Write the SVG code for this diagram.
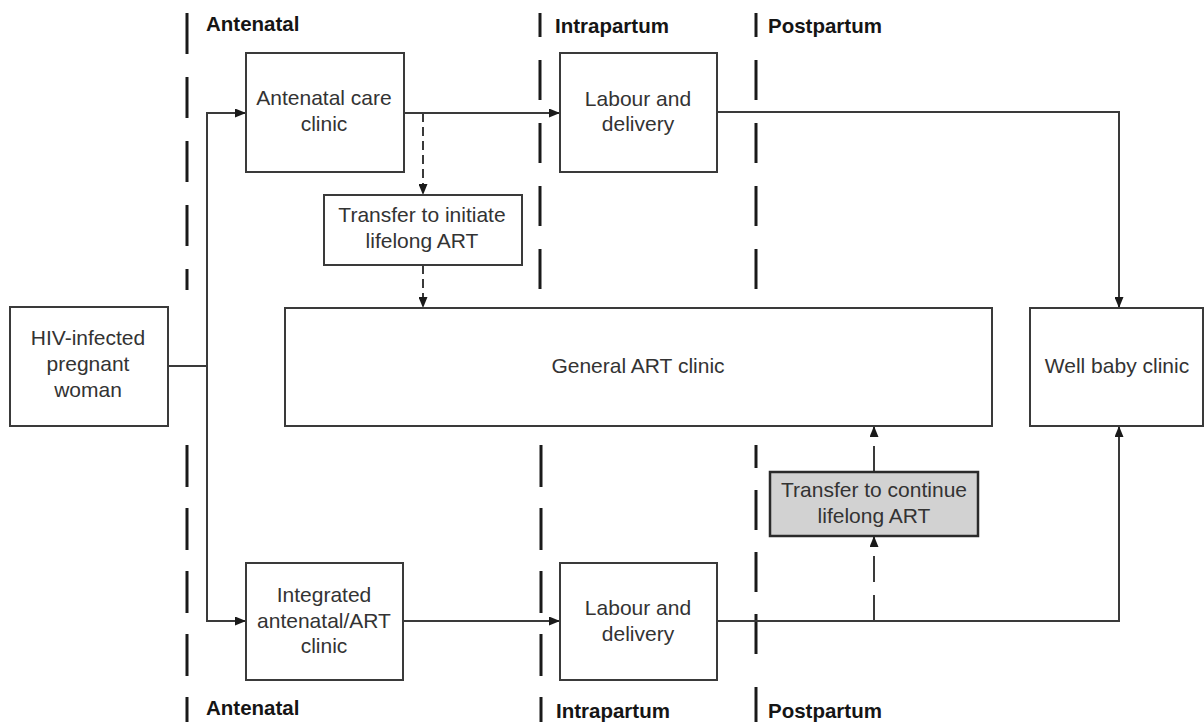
<svg xmlns="http://www.w3.org/2000/svg" width="1204" height="722" viewBox="0 0 1204 722">
<style>
.box{fill:#fff;stroke:#3a3a3a;stroke-width:2}
.grey{fill:#d2d2d2;stroke:#2a2a2a;stroke-width:2.5}
.t{font-family:"Liberation Sans",Arial,sans-serif;font-size:21px;fill:#333;text-anchor:middle}
.lbl{font-family:"Liberation Sans",Arial,sans-serif;font-size:20.5px;font-weight:bold;fill:#151515}
.phase{stroke:#1a1a1a;stroke-width:3;fill:none}
.c{fill:none;stroke:#3a3a3a;stroke-width:2}
.d{fill:none;stroke:#3a3a3a;stroke-width:2;stroke-dasharray:9 5}
.d2{fill:none;stroke:#3a3a3a;stroke-width:2;stroke-dasharray:26 13}
</style>
<defs>
<marker id="ah" markerUnits="userSpaceOnUse" markerWidth="11" markerHeight="9" refX="11" refY="4.5" orient="auto">
<path d="M0,0 L11,4.5 L0,9 z" fill="#1a1a1a"/>
</marker>
</defs>
<rect width="1204" height="722" fill="#fff"/>
<g id="phases">
<line class="phase" x1="187" y1="13" x2="187" y2="290" stroke-dasharray="41 23"/>
<line class="phase" x1="187" y1="445" x2="187" y2="722" stroke-dasharray="42 21"/>
<line class="phase" x1="540" y1="13" x2="540" y2="37"/>
<line class="phase" x1="540" y1="60" x2="540" y2="289" stroke-dasharray="40 23"/>
<line class="phase" x1="541" y1="445" x2="541" y2="722" stroke-dasharray="42 21"/>
<line class="phase" x1="756" y1="13" x2="756" y2="37"/>
<line class="phase" x1="756" y1="60" x2="756" y2="289" stroke-dasharray="40 23"/>
<line class="phase" x1="756" y1="445" x2="756" y2="468"/>
<line class="phase" x1="756" y1="490" x2="756" y2="657" stroke-dasharray="40 22"/>
<line class="phase" x1="756" y1="687" x2="756" y2="722"/>
<text class="lbl" x="206" y="31">Antenatal</text>
<text class="lbl" x="555" y="33">Intrapartum</text>
<text class="lbl" x="768" y="33">Postpartum</text>
<text class="lbl" x="206" y="715">Antenatal</text>
<text class="lbl" x="556" y="718">Intrapartum</text>
<text class="lbl" x="768" y="718">Postpartum</text>
</g>
<g id="connectors">
<path class="c" d="M168,366 H207"/>
<path class="c" d="M207,366 V113 H246" marker-end="url(#ah)"/>
<path class="c" d="M207,366 V621 H246" marker-end="url(#ah)"/>
<path class="c" d="M404,113 H560" marker-end="url(#ah)"/>
<path class="d" d="M423,113 V195" marker-end="url(#ah)"/>
<path class="d" d="M423,265 V308" marker-end="url(#ah)"/>
<path class="c" d="M717,112 H1119 V308" marker-end="url(#ah)"/>
<path class="c" d="M403,621 H560" marker-end="url(#ah)"/>
<path class="c" d="M717,621 H1119 V426" marker-end="url(#ah)"/>
<path class="d2" d="M874,621 V536" marker-end="url(#ah)"/>
<path class="d2" d="M874,472 V426" marker-end="url(#ah)"/>
</g>
<g id="hiv">
<rect class="box" x="10" y="307" width="158" height="119"/>
<text class="t" x="88" y="345">HIV-infected</text>
<text class="t" x="88" y="371">pregnant</text>
<text class="t" x="88" y="397">woman</text>
</g>
<g id="antenatal-care">
<rect class="box" x="246" y="53" width="158" height="119"/>
<text class="t" x="324" y="105">Antenatal care</text>
<text class="t" x="324" y="131">clinic</text>
</g>
<g id="labour-top">
<rect class="box" x="560" y="53" width="157" height="119"/>
<text class="t" x="638" y="106">Labour and</text>
<text class="t" x="638" y="131">delivery</text>
</g>
<g id="transfer-initiate">
<rect class="box" x="324" y="195" width="198" height="70"/>
<text class="t" x="422" y="222">Transfer to initiate</text>
<text class="t" x="422" y="248">lifelong ART</text>
</g>
<g id="general-art">
<rect class="box" x="285" y="308" width="707" height="118"/>
<text class="t" x="638" y="373">General ART clinic</text>
</g>
<g id="well-baby">
<rect class="box" x="1030" y="308" width="173" height="118"/>
<text class="t" x="1117" y="373">Well baby clinic</text>
</g>
<g id="transfer-continue">
<rect class="grey" x="770" y="472" width="208" height="64"/>
<text class="t" x="874" y="497">Transfer to continue</text>
<text class="t" x="874" y="523">lifelong ART</text>
</g>
<g id="integrated">
<rect class="box" x="246" y="563" width="157" height="117"/>
<text class="t" x="324" y="602">Integrated</text>
<text class="t" x="324" y="628">antenatal/ART</text>
<text class="t" x="324" y="653">clinic</text>
</g>
<g id="labour-bottom">
<rect class="box" x="560" y="563" width="157" height="117"/>
<text class="t" x="638" y="615">Labour and</text>
<text class="t" x="638" y="641">delivery</text>
</g>
</svg>
